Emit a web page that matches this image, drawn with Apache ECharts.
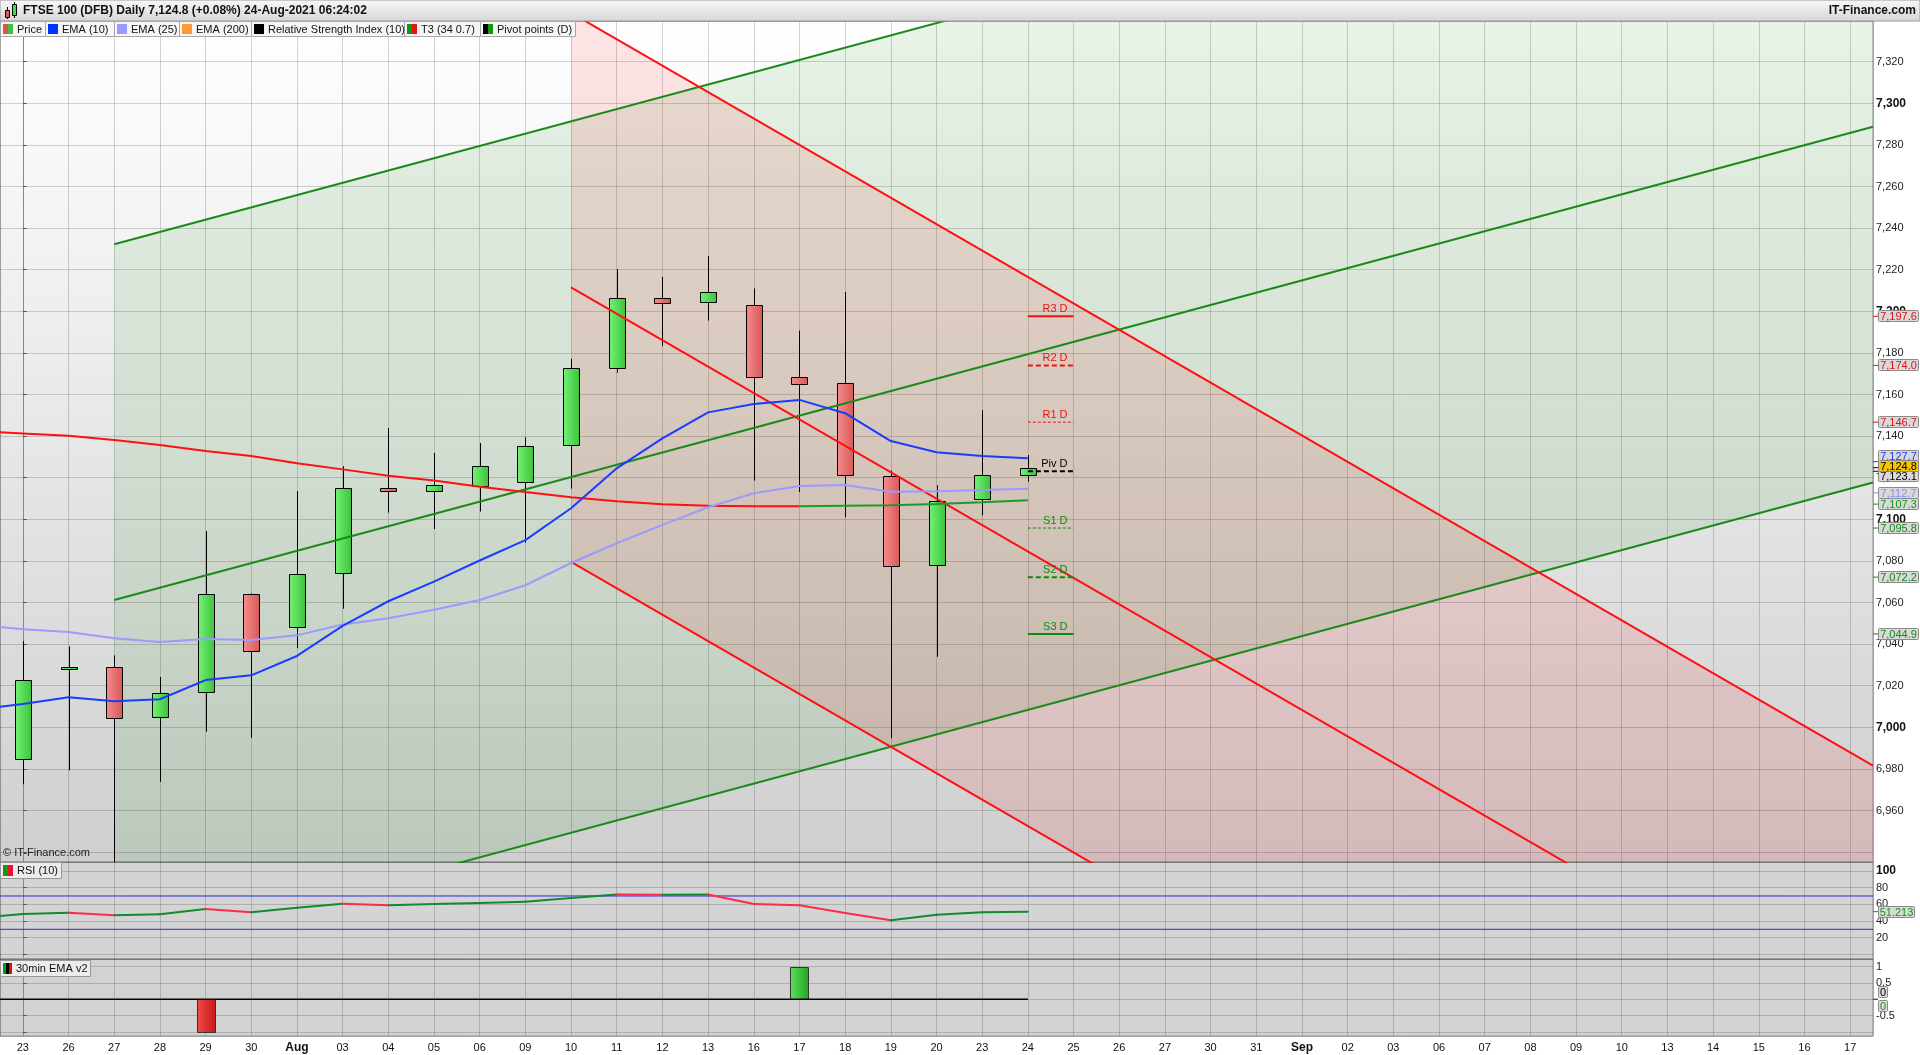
<!DOCTYPE html>
<html><head><meta charset="utf-8">
<script src="https://cdn.jsdelivr.net/npm/echarts@6/dist/echarts.min.js"></script>
<style>html,body{margin:0;padding:0;background:#fff;}#c{width:1920px;height:1055px;}</style>
</head><body><div id="c"></div>
<script>
// ---------------- DATA ----------------
const titleText = 'FTSE 100 (DFB) Daily 7,124.8 (+0.08%) 24-Aug-2021 06:24:02';
const siteText = 'IT-Finance.com';
const copyrightText = '\u00a9 IT-Finance.com';
const legendNames = ['Price', 'EMA (10)', 'EMA (25)', 'EMA (200)', 'Relative Strength Index (10)', 'T3 (34 0.7)', 'Pivot points (D)'];

const xLabels = ['23','26','27','28','29','30','Aug','03','04','05','06','09','10','11','12','13','16','17','18','19','20',
  '23','24','25','26','27','30','31','Sep','02','03','06','07','08','09','10','13','14','15','16','17'];
const boldLabels = ['Aug', 'Sep'];
const lowestPriceLabel = 6960;

// daily candles, index 0 = 23 Jul ... 22 = 24 Aug
const opens  = [6984.6,7028.0,7029.1,7004.8,7016.8,7063.9,7048.1,7074.2,7114.9,7113.5,7115.9,7117.8,7135.6,7172.6,7206.3,7204.3,7202.9,7168.3,7165.4,7120.8,7078.2,7109.9,7121.3];
const closes = [7022.6,7029.0,7004.3,7016.6,7063.9,7036.5,7073.6,7114.9,7113.5,7116.3,7125.5,7135.1,7172.6,7206.3,7203.8,7209.1,7168.3,7165.1,7121.3,7077.7,7109.0,7121.3,7124.8];
const lows   = [6972.6,6979.3,6925.0,6973.8,6997.9,6995.0,7038.1,7057.0,7103.2,7095.3,7103.7,7088.8,7114.7,7170.5,7183.3,7195.5,7118.6,7113.1,7101.0,6994.7,7033.9,7101.9,7118.1];
const highs  = [7041.5,7038.9,7034.6,7024.2,7094.4,7064.4,7113.6,7125.5,7143.9,7131.9,7136.7,7139.4,7177.1,7220.3,7216.5,7226.6,7211.0,7190.7,7209.3,7123.4,7116.3,7152.4,7130.9];

// indicator lines start one trading day earlier (22 Jul = index -1)
const lineStartIndex = -1;
const ema10 = [7008.6,7011.2,7014.4,7012.5,7013.5,7022.7,7025.0,7034.3,7048.8,7060.6,7070.0,7080.2,7090.0,7105.3,7124.5,7138.9,7151.4,7155.4,7157.4,7151.0,7137.6,7132.2,7130.4,7129.4];
const ema25 = [7049.3,7047.1,7045.8,7042.8,7041.0,7042.5,7042.0,7044.2,7049.4,7052.4,7056.5,7061.2,7068.3,7079.0,7088.5,7097.3,7105.8,7112.5,7116.0,7116.5,7113.3,7113.5,7114.1,7114.7];
const t3     = [7142.3,7141.3,7140.2,7138.1,7135.7,7132.8,7130.4,7126.9,7124.0,7120.9,7118.6,7115.7,7113.1,7110.6,7108.7,7107.2,7106.5,7106.3,7106.3,7106.5,7106.7,7107.3,7108.2,7109.2];
const t3TurnIndex = 17;   // T3 turns green from 17 Aug
const rsi10  = [43.6,48.4,49.9,46.8,48.0,54.4,50.4,56.0,60.8,58.8,60.4,61.6,63.2,67.6,71.8,71.5,71.7,60.4,58.8,49.6,40.8,47.5,50.6,51.2];
const rsiLevels = [70, 30];
const signalDays = [4, 17];
const signalValues = [-1, 1];
const signalLine = [[-1, 0], [22, 0]];

// trend channels: [dayIndex, midValue] at both ends, plus half width
const greenChannelMid = [[2, 7061.2], [40.5, 7288.7]];
const greenChannelHalf = 171;
const redChannelMid = [[12, 7211.5], [40.5, 6849.6]];
const redChannelHalf = 132;

// daily pivot points for 24 Aug
const pivotNames  = ['R3 D','R2 D','R1 D','Piv D','S1 D','S2 D','S3 D'];
const pivotValues = [7197.6, 7174.0, 7146.7, 7123.1, 7095.8, 7072.2, 7044.9];
const pivotDay = 22;

// right-axis value tags
const mainTagValues = [7197.6, 7174.0, 7146.7, 7127.7, 7123.1, 7124.8, 7112.7, 7107.3, 7095.8, 7072.2, 7044.9];
const mainTagKinds  = ['res','res','res','ema10','pivot','price','ema25','t3','sup','sup','sup'];
const rsiTagValue = 51.213;
const signalTagValues = [0, 0];
const signalTagKinds = ['pivot', 't3'];

// ---------------- STYLE ----------------
const FONT = '"Liberation Sans", Arial, sans-serif';
const tagStyles = {
  res:   {color:'#e01010', bg:'#d9d9d9'},
  ema10: {color:'#1a3cff', bg:'#d9d9d9'},
  pivot: {color:'#000000', bg:'#d9d9d9'},
  price: {color:'#000000', bg:'#f5c400'},
  ema25: {color:'#8888ff', bg:'#d9d9d9'},
  t3:    {color:'#119911', bg:'#d9d9d9'},
  sup:   {color:'#118811', bg:'#d9d9d9'}
};
const tagShift = {ema10:-6, pivot:5, price:-2};
const pivotStyles = [
  {color:'#ee1111', width:2, dash:null},
  {color:'#ee1111', width:2, dash:[5,3]},
  {color:'#ee1111', width:1, dash:[3,2]},
  {color:'#000000', width:2, dash:[5,3]},
  {color:'#118811', width:1, dash:[3,2]},
  {color:'#118811', width:2, dash:[5,3]},
  {color:'#118811', width:2, dash:null}
];
const legendX = [0, 45, 114, 179, 251, 404, 480, 575];
const legendSwatches = [['#e05050','#40c040'],['#0033ff'],['#9999ff'],['#ff9933'],['#000000'],['#119911','#ee1111'],['#000000','#119911']];
const G = echarts.graphic;

// ---------------- BUILD ----------------
const fmt1 = v => v.toLocaleString('en-US', {minimumFractionDigits:1, maximumFractionDigits:1});
const fmt0 = v => v.toLocaleString('en-US', {maximumFractionDigits:1});
const lineData = arr => arr.map((v, k) => [lineStartIndex + k, v]);
const gridLineColor = 'rgba(0,0,0,0.17)';

function xAxisFor(gi, labels) {
  return {
    type:'value', gridIndex:gi, min:-0.5, max:40.5, minInterval:1, maxInterval:1,
    axisLine:{show:false}, axisTick:{show:false},
    splitLine:{show:true, lineStyle:{color:gridLineColor, width:1}},
    axisLabel: labels ? {
      show:true, margin:6, color:'#111', fontFamily:'"Liberation Sans", Arial', fontSize:11,
      showMinLabel:false, showMaxLabel:false,
      formatter: v => {
        if (!Number.isInteger(v) || v < 0 || v >= xLabels.length) return '';
        const s = xLabels[v];
        return boldLabels.includes(s) ? '{b|' + s + '}' : s;
      },
      rich:{b:{fontWeight:'bold', fontSize:12, fontFamily:'"Liberation Sans", Arial', color:'#111'}}
    } : {show:false}
  };
}
function yAxisFor(gi, min, max, step, fmt) {
  return {
    type:'value', gridIndex:gi, position:'right', min, max, minInterval:step, maxInterval:step,
    axisLine:{show:true, lineStyle:{color:'#888'}},
    axisTick:{show:true, length:4, lineStyle:{color:'#555'}},
    splitLine:{show:true, lineStyle:{color:gridLineColor, width:1}},
    axisLabel:{show:true, margin:3, showMinLabel:false, showMaxLabel:false, color:'#222',
      fontFamily:'"Liberation Sans", Arial', fontSize:11, formatter:fmt,
      rich:{b:{fontWeight:'bold', fontSize:12, color:'#111', fontFamily:'"Liberation Sans", Arial'}}}
  };
}

function polygonSeries(mid, half, fill) {
  return {
    type:'custom', xAxisIndex:0, yAxisIndex:0, clip:true, silent:true, z:1,
    data:[[mid[0][0], mid[0][1]]],
    encode:{x:0, y:1},
    renderItem:(params, api) => {
      const pts = [[mid[0][0], mid[0][1]-half],[mid[0][0], mid[0][1]+half],[mid[1][0], mid[1][1]+half],[mid[1][0], mid[1][1]-half]].map(p => api.coord(p));
      return {type:'polygon', shape:{points:pts}, style:{fill}};
    }
  };
}
function channelLines(mid, half, color) {
  return [-1, 0, 1].map(o => ({
    type:'line', xAxisIndex:0, yAxisIndex:0, silent:true, symbol:'none', z:4,
    data:[[mid[0][0], mid[0][1] + o*half], [mid[1][0], mid[1][1] + o*half]],
    lineStyle:{color, width:2}
  }));
}
function simpleLine(data, color, width, xi, yi, z) {
  return {type:'line', xAxisIndex:xi, yAxisIndex:yi, silent:true, symbol:'none', showSymbol:false, z:z||5,
    data, lineStyle:{color, width}};
}

const greenGrad = () => new G.LinearGradient(0,0,1,0,[{offset:0,color:'#74f274'},{offset:1,color:'#3cc23c'}]);
const redGrad = () => new G.LinearGradient(0,0,1,0,[{offset:0,color:'#f88c8c'},{offset:1,color:'#d65858'}]);

const candleSeries = {
  type:'custom', xAxisIndex:0, yAxisIndex:0, clip:true, silent:true, z:3,
  data: opens.map((o, k) => [k, o, closes[k], lows[k], highs[k]]),
  encode:{x:0, y:[1,2,3,4]},
  renderItem:(params, api) => {
    const i = api.value(0), o = api.value(1), c = api.value(2), l = api.value(3), h = api.value(4);
    const pO = api.coord([i, o]), pC = api.coord([i, c]), pL = api.coord([i, l]), pH = api.coord([i, h]);
    const x = Math.round(pO[0]);
    const top = Math.round(Math.min(pO[1], pC[1])), bot = Math.round(Math.max(pO[1], pC[1]));
    const up = c >= o;
    return {type:'group', children:[
      {type:'line', shape:{x1:x+0.5, y1:pH[1], x2:x+0.5, y2:pL[1]}, style:{stroke:'#000', lineWidth:1}},
      {type:'rect', shape:{x:x-8+0.5, y:top+0.5, width:16, height:Math.max(2, bot-top)},
        style:{fill: up ? greenGrad() : redGrad(), stroke:'#000', lineWidth:1}}
    ]};
  }
};

const pivotSeries = {
  type:'custom', xAxisIndex:0, yAxisIndex:0, clip:false, silent:true, z:8,
  data: pivotValues.map(v => [pivotDay, v]),
  encode:{x:0, y:1},
  renderItem:(params, api) => {
    const k = params.dataIndex, st = pivotStyles[k];
    const p0 = api.coord([pivotDay, pivotValues[k]]), p1 = api.coord([pivotDay + 1, pivotValues[k]]);
    return {type:'group', children:[
      {type:'line', shape:{x1:p0[0], y1:p0[1], x2:p1[0], y2:p1[1]}, style:{stroke:st.color, lineWidth:st.width, lineDash:st.dash}},
      {type:'text', style:{x:p1[0]-6, y:p0[1]-7, text:pivotNames[k], font:'11px ' + FONT, fill:st.color,
        align:'right', verticalAlign:'middle', textAlign:'right', textVerticalAlign:'middle'}}
    ]};
  }
};

function tagSeries(xi, yi, values, kinds, texter, boxW, shifts) {
  return {
    type:'custom', xAxisIndex:xi, yAxisIndex:yi, clip:false, silent:true, z:20,
    data: values.map(v => [0, v]),
    encode:{x:0, y:1},
    renderItem:(params, api) => {
      const k = params.dataIndex, v = values[k], st = tagStyles[kinds[k]];
      const cs = params.coordSys, xr = cs.x + cs.width;
      const y0 = api.coord([0, v])[1];
      const y = y0 + (shifts ? shifts(k) : 0);
      return {type:'group', children:[
        {type:'line', shape:{x1:xr, y1:y0, x2:xr+5, y2:y0}, style:{stroke:st.color, lineWidth:1}},
        {type:'rect', shape:{x:xr+5.5, y:Math.round(y-6)+0.5, width:boxW, height:11, r:1}, style:{fill:st.bg, stroke:'#8a8a8a', lineWidth:1}},
        {type:'text', style:{x:xr+5.5+boxW/2, y:Math.round(y)+0.5, text:texter(v), font:'11px ' + FONT, fill:st.color,
          align:'center', verticalAlign:'middle', textAlign:'center', textVerticalAlign:'middle'}}
      ]};
    }
  };
}

const rsiSeries = {
  type:'custom', xAxisIndex:1, yAxisIndex:1, clip:true, silent:true, z:5,
  data: lineData(rsi10),
  encode:{x:0, y:1},
  renderItem:(params, api) => {
    const k = params.dataIndex;
    if (k === 0) return null;
    const a = api.coord([lineStartIndex + k - 1, rsi10[k-1]]), b = api.coord([lineStartIndex + k, rsi10[k]]);
    return {type:'line', shape:{x1:a[0], y1:a[1], x2:b[0], y2:b[1]},
      style:{stroke: rsi10[k] >= rsi10[k-1] ? '#138a2e' : '#ff2a4a', lineWidth:2, lineCap:'round'}};
  }
};

const signalSeries = {
  type:'custom', xAxisIndex:2, yAxisIndex:2, clip:true, silent:true, z:4,
  data: signalDays.map((d, k) => [d, signalValues[k]]),
  encode:{x:0, y:1},
  renderItem:(params, api) => {
    const d = api.value(0), v = api.value(1);
    const p0 = api.coord([d, 0]), p1 = api.coord([d, v]);
    const top = Math.round(Math.min(p0[1], p1[1])), bot = Math.round(Math.max(p0[1], p1[1]));
    const grad = v > 0
      ? new G.LinearGradient(0,0,1,0,[{offset:0,color:'#5ee05e'},{offset:1,color:'#23a523'}])
      : new G.LinearGradient(0,0,1,0,[{offset:0,color:'#f24a4a'},{offset:1,color:'#c81818'}]);
    return {type:'rect', shape:{x:Math.round(p0[0])-9+0.5, y:top+0.5, width:18, height:bot-top},
      style:{fill:grad, stroke:'#333', lineWidth:1}};
  }
};

// ---------------- GRAPHICS (title bar, legend, panel labels) ----------------
const graphics = [];
graphics.push({type:'rect', z:100, shape:{x:0, y:0, width:1920, height:21},
  style:{fill:new G.LinearGradient(0,0,0,1,[{offset:0,color:'#f8f8f8'},{offset:1,color:'#d6d6d6'}]), stroke:'#9a9a9a', lineWidth:1}});
// small candle icon
graphics.push({type:'line', z:101, shape:{x1:7.5, y1:7, x2:7.5, y2:19}, style:{stroke:'#000', lineWidth:1}});
graphics.push({type:'rect', z:101, shape:{x:5.5, y:10.5, width:4, height:7}, style:{fill:'#e85a5a', stroke:'#000', lineWidth:1}});
graphics.push({type:'line', z:101, shape:{x1:14.5, y1:2, x2:14.5, y2:18}, style:{stroke:'#000', lineWidth:1}});
graphics.push({type:'rect', z:101, shape:{x:12.5, y:4.5, width:4, height:11}, style:{fill:'#4cd84c', stroke:'#000', lineWidth:1}});
graphics.push({type:'text', z:101, style:{x:23, y:11, text:titleText, font:'bold 12px ' + FONT, fill:'#111',
  verticalAlign:'middle', textVerticalAlign:'middle'}});
graphics.push({type:'text', z:101, style:{x:1916, y:11, text:siteText, font:'bold 12px ' + FONT, fill:'#111',
  align:'right', textAlign:'right', verticalAlign:'middle', textVerticalAlign:'middle'}});
// legend row
legendNames.forEach((name, k) => {
  const x0 = legendX[k], x1 = legendX[k+1];
  graphics.push({type:'rect', z:100, shape:{x:x0+0.5, y:21.5, width:x1-x0, height:15}, style:{fill:'#f6f6f6', stroke:'#a8a8a8', lineWidth:1}});
  const sw = legendSwatches[k];
  const w = 10 / sw.length;
  sw.forEach((c, j) => graphics.push({type:'rect', z:101, shape:{x:x0+3+j*w, y:24, width:w, height:10}, style:{fill:c}}));
  graphics.push({type:'text', z:101, style:{x:x0+17, y:29.5, text:name, font:'11px ' + FONT, fill:'#111',
    verticalAlign:'middle', textVerticalAlign:'middle'}});
});
graphics.push({type:'text', z:101, style:{x:3, y:853, text:copyrightText, font:'11px ' + FONT, fill:'#222',
  verticalAlign:'middle', textVerticalAlign:'middle'}});
// RSI panel label
graphics.push({type:'rect', z:100, shape:{x:0.5, y:862.5, width:61, height:16}, style:{fill:'#ececec', stroke:'#999', lineWidth:1}});
graphics.push({type:'rect', z:101, shape:{x:3, y:865, width:5, height:11}, style:{fill:'#119911'}});
graphics.push({type:'rect', z:101, shape:{x:8, y:865, width:5, height:11}, style:{fill:'#ee1133'}});
graphics.push({type:'text', z:101, style:{x:17, y:870.5, text:'RSI (10)', font:'11px ' + FONT, fill:'#111',
  verticalAlign:'middle', textVerticalAlign:'middle'}});
// signal panel label
graphics.push({type:'rect', z:100, shape:{x:0.5, y:960.5, width:90, height:16}, style:{fill:'#ececec', stroke:'#999', lineWidth:1}});
graphics.push({type:'rect', z:101, shape:{x:3, y:963, width:3, height:11}, style:{fill:'#119911'}});
graphics.push({type:'rect', z:101, shape:{x:6, y:963, width:3, height:11}, style:{fill:'#000'}});
graphics.push({type:'rect', z:101, shape:{x:9, y:963, width:3, height:11}, style:{fill:'#cc1111'}});
graphics.push({type:'text', z:101, style:{x:16, y:968.5, text:'30min EMA v2', font:'11px ' + FONT, fill:'#111',
  verticalAlign:'middle', textVerticalAlign:'middle'}});

// ---------------- OPTION ----------------
const option = {
  animation:false,
  backgroundColor:'#ffffff',
  grid:[
    {left:0, top:21, width:1873, height:841, show:true, borderColor:'#8c8c8c', borderWidth:1,
      backgroundColor:new G.LinearGradient(0,0,0,1,[{offset:0,color:'#ffffff'},{offset:1,color:'#cfcfcf'}])},
    {left:0, top:862, width:1873, height:97, show:true, borderColor:'#8c8c8c', borderWidth:1, backgroundColor:'#d4d4d4'},
    {left:0, top:959, width:1873, height:77, show:true, borderColor:'#8c8c8c', borderWidth:1, backgroundColor:'#d2d2d2'}
  ],
  xAxis:[xAxisFor(0, false), xAxisFor(1, false), xAxisFor(2, true)],
  yAxis:[
    yAxisFor(0, 6935.24, 7339.57, 20, v => (v < lowestPriceLabel ? '' : (v % 100 === 0 ? '{b|' + fmt0(v) + '}' : fmt0(v)))),
    yAxisFor(1, -5.64, 110.8, 20, v => (v === 0 ? '' : (v === 100 ? '{b|100}' : String(v)))),
    yAxisFor(2, -1.126, 1.236, 0.5, v => (v === 0 || v === -1 ? '' : String(v)))
  ],
  graphic:{elements:graphics},
  series:[
    polygonSeries(greenChannelMid, greenChannelHalf, 'rgba(0,128,0,0.09)'),
    polygonSeries(redChannelMid, redChannelHalf, 'rgba(255,0,0,0.10)'),
    candleSeries,
    ...channelLines(greenChannelMid, greenChannelHalf, '#1a8a1a'),
    ...channelLines(redChannelMid, redChannelHalf, '#ff1010'),
    simpleLine(lineData(t3).slice(0, t3TurnIndex - lineStartIndex + 1), '#ff1010', 2, 0, 0, 5),
    simpleLine(lineData(t3).slice(t3TurnIndex - lineStartIndex), '#1c9a2c', 2, 0, 0, 5),
    simpleLine(lineData(ema25), '#9a9aff', 2, 0, 0, 6),
    simpleLine(lineData(ema10), '#1a3cff', 2, 0, 0, 7),
    pivotSeries,
    tagSeries(0, 0, mainTagValues, mainTagKinds, fmt1, 40, k => tagShift[mainTagKinds[k]] || 0),
    ...rsiLevels.map(l => simpleLine([[-0.5, l], [40.5, l]], '#2a2ad8', 1, 1, 1, 4)),
    rsiSeries,
    tagSeries(1, 1, [rsiTagValue], ['t3'], v => v.toFixed(3), 36, null),
    simpleLine(signalLine, '#000000', 1.5, 2, 2, 5),
    signalSeries,
    tagSeries(2, 2, signalTagValues, signalTagKinds, v => String(v), 9, k => (k === 0 ? -7 : 7))
  ]
};

const chart = echarts.init(document.getElementById('c'), null, {renderer:'canvas'});
chart.setOption(option);
</script>
</body></html>
